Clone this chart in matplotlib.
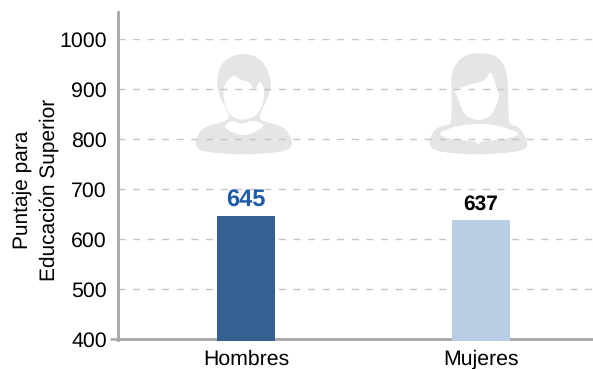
import numpy as np
import matplotlib
matplotlib.use("Agg")
import matplotlib.pyplot as plt
from matplotlib.patches import Polygon

plt.rcParams['font.family'] = ['Liberation Sans', 'DejaVu Sans']
plt.rcParams['text.hinting'] = 'no_hinting'

categories = ['Hombres', 'Mujeres']
values = [645, 637]
bar_colors = ['#376092', '#b9cde5']
label_colors = ['#1f5ca8', '#000000']
label_sizes = [17, 15]
yticks = [400, 500, 600, 700, 800, 900, 1000]
ylabel = 'Puntaje para\nEducación Superior'

W, H = 593, 369
fig = plt.figure(figsize=(W / 100, H / 100), dpi=100)
L, R, T, B = 118, 593, 38.8, 338.8
ax = fig.add_axes([L / W, 1 - B / H, (R - L) / W, (B - T) / H])
ax.patch.set_alpha(0)
ax.set_zorder(2)

base = 396
ax.bar(range(2), [v - base for v in values], bottom=base, width=58 / 235,
       color=bar_colors, clip_on=False, zorder=3)
for i, v in enumerate(values):
    ax.annotate(str(v), (i, v), xytext=(0, 3.6 if i == 0 else 4.8), textcoords='offset points',
                ha='center', va='bottom', fontweight='bold',
                fontsize=label_sizes[i], color=label_colors[i], zorder=4)

ax.set_xlim((L - 246) / 235, (R - 246) / 235)
ax.set_ylim(400, 1000)
ax.set_xticks(range(2), categories, fontsize=15.3)
ax.set_yticks(yticks)
ax.tick_params(axis='y', labelsize=15.4, length=6, width=1.8, color='#a6a6a6', pad=2)
ax.tick_params(axis='x', length=0, pad=7.7)
for t, v in zip(ax.yaxis.get_major_ticks(), yticks):
    if v != 400:
        t.tick1line.set_visible(False)
ax.grid(axis='y', color='#c6c6c6', linestyle=(0, (5, 5.5)), linewidth=1, zorder=1)
ax.set_axisbelow(True)
for s in ['top', 'right']:
    ax.spines[s].set_visible(False)
for s in ['left', 'bottom']:
    ax.spines[s].set_color('#a6a6a6')
    ax.spines[s].set_linewidth(2.0)
ax.spines['left'].set_bounds(398, 1053)
ax.text(-0.173, 0.495, ylabel, transform=ax.transAxes, rotation=90, ha='center',
        va='center', fontsize=15, linespacing=1.45)

# Silhouette icons (decoration), in pixel coordinates behind the chart
bg = fig.add_axes([0, 0, 1, 1], zorder=1)
bg.set_xlim(0, W)
bg.set_ylim(H, 0)
bg.axis('off')


def smooth(pts, n=10):
    p = np.array(pts, float)
    m = len(p)
    out = []
    for i in range(m):
        a, b, c, d = p[i - 1], p[i], p[(i + 1) % m], p[(i + 2) % m]
        for t in np.linspace(0, 1, n, endpoint=False):
            out.append(0.5 * (2 * b + (c - a) * t + (2 * a - 5 * b + 4 * c - d) * t ** 2
                              + (3 * b - a - 3 * c + d) * t ** 3))
    return np.array(out)


def draw(pts, ox, oy, color):
    xy = smooth(pts) / 3 + [ox, oy]
    bg.add_patch(Polygon(xy, closed=True, fc=color, ec='none'))


gray = '#e5e5e5'
man_outer = [(190, 42), (235, 55), (262, 90), (272, 130), (264, 170), (248, 205), (242, 238),
             (300, 258), (325, 280), (335, 315), (300, 335), (190, 343), (80, 335), (48, 315),
             (60, 275), (85, 258), (143, 238), (137, 205), (120, 170), (112, 130), (120, 85), (145, 55)]
man_face = [(131, 165), (134, 135), (150, 115), (162, 108), (185, 120), (208, 128), (224, 147), (240, 125),
            (252, 150), (248, 190), (228, 225), (187, 239), (152, 225), (136, 195)]
man_collar = [(135, 260), (155, 243), (185, 251), (220, 243), (250, 256), (222, 277), (190, 285), (160, 278)]
draw(man_outer, 180, 40, gray)
draw(man_face, 180, 40, 'white')
draw(man_collar, 180, 40, 'white')

woman_outer = [(190, 40), (240, 48), (268, 80), (278, 130), (280, 200), (285, 250), (310, 262),
               (330, 290), (335, 320), (300, 335), (190, 343), (80, 335), (45, 315), (55, 275),
               (80, 258), (105, 250), (110, 200), (110, 110), (125, 70), (150, 48)]
woman_face = [(122, 150), (160, 135), (205, 122), (228, 100), (247, 150), (252, 165), (248, 185),
              (228, 225), (190, 240), (152, 225), (132, 185), (127, 170)]
woman_collar = [(75, 281), (105, 265), (145, 255), (190, 252), (235, 255), (275, 265), (310, 281),
                (275, 296), (205, 304), (190, 312), (175, 304), (105, 296)]
draw(woman_outer, 415, 40, gray)
draw(woman_face, 415, 40, 'white')
draw(woman_collar, 415, 40, 'white')

fig.savefig('out.png', dpi=100)
